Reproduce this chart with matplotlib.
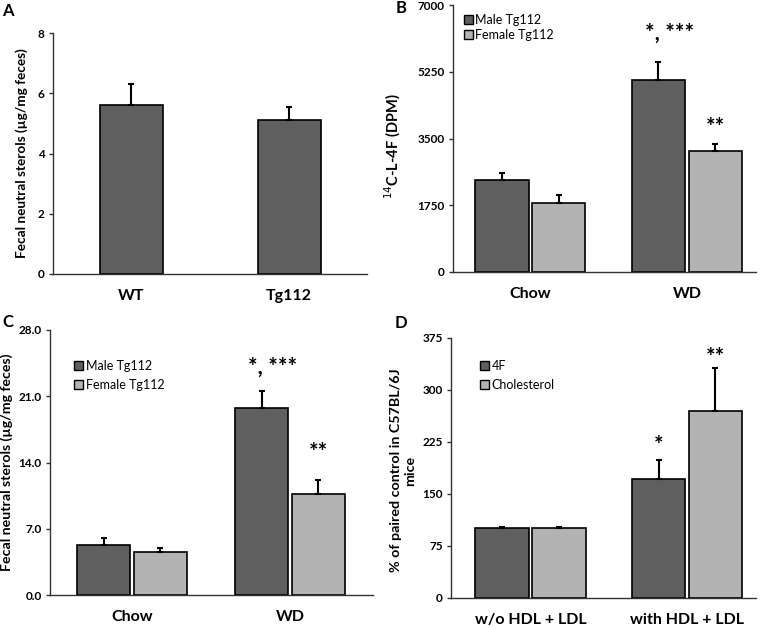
import matplotlib
matplotlib.use("Agg")
import matplotlib.pyplot as plt
from matplotlib.patches import Patch

plt.rcParams['font.family'] = ['Lato', 'DejaVu Sans']

# Panel A
a_groups = ["WT", "Tg112"]
a_vals = [5.61, 5.11]
a_errs = [0.69, 0.42]

# Panel B
b_groups = ["Chow", "WD"]
b_male = [2403, 5025]
b_male_err = [201, 472]
b_female = [1818, 3172]
b_female_err = [201, 175]

# Panel C
c_groups = ["Chow", "WD"]
c_male = [5.28, 19.8]
c_male_err = [0.77, 1.8]
c_female = [4.50, 10.66]
c_female_err = [0.5, 1.45]

# Panel D
d_groups = ["w/o HDL + LDL", "with HDL + LDL"]
d_4f = [101, 172]
d_4f_err = [0.8, 26.6]
d_chol = [101, 270]
d_chol_err = [0.8, 61.7]

dark = "#5f5f5f"
light = "#b3b3b3"

fig = plt.figure(figsize=(7.66, 6.29), dpi=100)

TICK = 8.5
XTICK = 11.5
LEG = 9
STAR = 16


def style_axis(ax, ylim, yticks, ytl, xlim):
    ax.set_ylim(*ylim)
    ax.set_xlim(*xlim)
    ax.set_yticks(yticks)
    ax.set_yticklabels(ytl, fontsize=TICK, fontweight='bold')
    for s in ['top', 'right']:
        ax.spines[s].set_visible(False)
    for s in ['left', 'bottom']:
        ax.spines[s].set_color('#333333')
        ax.spines[s].set_linewidth(1.0)
    ax.tick_params(axis='y', length=3, width=1, color='#333333', pad=3)
    ax.tick_params(axis='x', length=0, pad=11)


def bars(ax, xs, vals, errs, color, width):
    ax.bar(xs, vals, width=width, color=color, edgecolor='black', linewidth=1.2, zorder=2)
    ax.errorbar(xs, vals, yerr=[[0] * len(errs), errs], fmt='none', ecolor='black',
                elinewidth=1.5, capsize=2.5, capthick=1.5, zorder=3)


def legend(ax, labels, anchor, spacing):
    ax.legend(handles=[Patch(facecolor=dark, edgecolor='black', label=labels[0]),
                       Patch(facecolor=light, edgecolor='black', label=labels[1])],
              loc='upper left', bbox_to_anchor=anchor, frameon=False, fontsize=LEG,
              handlelength=0.7, handleheight=0.7, handletextpad=0.2, labelspacing=spacing,
              borderaxespad=0)


# ---- A ----
axA = fig.add_axes([53 / 766, 1 - 274 / 629, 314 / 766, 241 / 629])
bars(axA, [0, 1], a_vals, a_errs, dark, 0.40)
style_axis(axA, (0, 8), [0, 2, 4, 6, 8], ["0", "2", "4", "6", "8"], (-0.498, 1.495))
axA.set_xticks([0, 1])
axA.set_xticklabels(a_groups, fontsize=XTICK, fontweight='bold')
axA.set_ylabel("Fecal neutral sterols (\u00b5g/mg feces)", fontsize=9.8, fontweight='bold')
axA.yaxis.set_label_coords(-0.081, 0.5)

# ---- B ----
off, w = 0.182, 0.339
axB = fig.add_axes([453 / 766, 1 - 272 / 629, 303 / 766, 267 / 629])
bars(axB, [x - off for x in range(2)], b_male, b_male_err, dark, w)
bars(axB, [x + off for x in range(2)], b_female, b_female_err, light, w)
style_axis(axB, (0, 7000), [0, 1750, 3500, 5250, 7000],
           ["0", "1750", "3500", "5250", "7000"], (-0.495, 1.441))
axB.set_xticks([0, 1])
axB.set_xticklabels(b_groups, fontsize=XTICK, fontweight='bold')
axB.set_ylabel("$^{14}$C-L-4F (DPM)", fontsize=10.5, fontweight='bold')
axB.yaxis.set_label_coords(-0.165, 0.47)
legend(axB, ['Male Tg112', 'Female Tg112'], (0.02, 0.985), 0.25)
axB.text(1 - off + 0.07, 6250, "*, ***", ha='center', va='center', fontsize=STAR, fontweight='bold')
axB.text(1 + off, 3780, "**", ha='center', va='center', fontsize=STAR, fontweight='bold')

# ---- C ----
off_c, w_c = 0.18, 0.335
axC = fig.add_axes([50 / 766, 1 - 595 / 629, 323 / 766, 265 / 629])
bars(axC, [x - off_c for x in range(2)], c_male, c_male_err, dark, w_c)
bars(axC, [x + off_c for x in range(2)], c_female, c_female_err, light, w_c)
style_axis(axC, (0, 28), [0, 7, 14, 21, 28], ["0.0", "7.0", "14.0", "21.0", "28.0"],
           (-0.519, 1.525))
axC.set_xticks([0, 1])
axC.set_xticklabels(c_groups, fontsize=XTICK, fontweight='bold')
axC.set_ylabel("Fecal neutral sterols (\u00b5g/mg feces)", fontsize=10.2, fontweight='bold')
axC.yaxis.set_label_coords(-0.114, 0.5)
legend(axC, ['Male Tg112', 'Female Tg112'], (0.06, 0.905), 0.55)
axC.text(1 - off_c + 0.07, 24.1, "*, ***", ha='center', va='center', fontsize=STAR, fontweight='bold')
axC.text(1 + off_c, 15.1, "**", ha='center', va='center', fontsize=STAR, fontweight='bold')

# ---- D ----
axD = fig.add_axes([451 / 766, 1 - 598 / 629, 305 / 766, 260 / 629])
bars(axD, [x - off for x in range(2)], d_4f, d_4f_err, dark, w)
bars(axD, [x + off for x in range(2)], d_chol, d_chol_err, light, w)
style_axis(axD, (0, 375), [0, 75, 150, 225, 300, 375],
           ["0", "75", "150", "225", "300", "375"], (-0.508, 1.441))
axD.set_xticks([0, 1])
axD.set_xticklabels(d_groups, fontsize=XTICK, fontweight='bold')
axD.set_ylabel("% of paired control in C57BL/6J\nmice", fontsize=10.3, fontweight='bold')
axD.yaxis.set_label_coords(-0.115, 0.49)
legend(axD, ['4F', 'Cholesterol'], (0.08, 0.935), 0.55)
axD.text(1 - off, 220, "*", ha='center', va='center', fontsize=STAR, fontweight='bold')
axD.text(1 + off, 347, "**", ha='center', va='center', fontsize=STAR, fontweight='bold')

# panel letters
for lbl, x, y in [("A", 8, 11), ("B", 401, 8), ("C", 8, 322), ("D", 401, 323)]:
    fig.text(x / 766, 1 - y / 629, lbl, fontsize=12, fontweight='bold', ha='center', va='center')

fig.savefig("out.png", dpi=100)
